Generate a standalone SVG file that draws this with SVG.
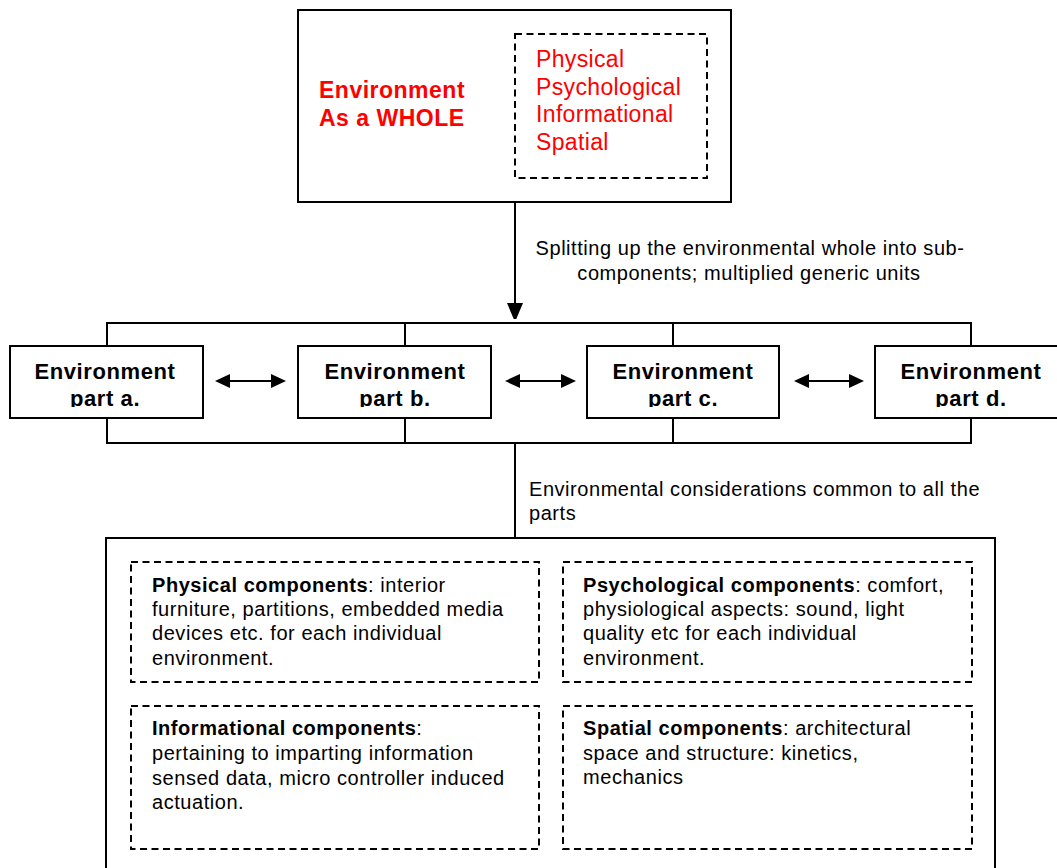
<svg xmlns="http://www.w3.org/2000/svg" width="1057" height="868" viewBox="0 0 1057 868">
  <style>
    .box { fill: #fff; stroke: #000; stroke-width: 2; }
    .dash { fill: none; stroke: #000; stroke-width: 2; stroke-dasharray: 7 4.5; }
    .wire { fill: none; stroke: #000; stroke-width: 2; }
    .txt { font-family: "Liberation Sans", Arial, sans-serif; font-size: 20px; letter-spacing: 0.55px; fill: #000; }
    .b { font-weight: bold; }
    .head { font-family: "Liberation Sans", Arial, sans-serif; font-size: 22px; font-weight: bold; letter-spacing: 0.6px; fill: #000; text-anchor: middle; }
    .redB { font-family: "Liberation Sans", Arial, sans-serif; font-size: 23px; font-weight: bold; letter-spacing: 0.5px; fill: #ff0000; }
    .red { font-family: "Liberation Sans", Arial, sans-serif; font-size: 23px; letter-spacing: 0.35px; fill: #ff0000; }
  </style>
  <defs>
    <marker id="arrowDown" markerUnits="userSpaceOnUse" markerWidth="16" markerHeight="19" refX="6" refY="8" orient="auto">
      <path d="M0,0 L19,8 L0,16 z" fill="#000"/>
    </marker>
    <marker id="arrowH" markerUnits="userSpaceOnUse" markerWidth="15" markerHeight="14" refX="5" refY="7" orient="auto-start-reverse">
      <path d="M0,0 L15,7 L0,14 z" fill="#000"/>
    </marker>
    <clipPath id="clipA"><rect x="10" y="346" width="193" height="61"/></clipPath>
    <clipPath id="clipB"><rect x="298" y="346" width="193" height="61"/></clipPath>
    <clipPath id="clipC"><rect x="587" y="346" width="193" height="61"/></clipPath>
    <clipPath id="clipD"><rect x="875" y="346" width="193" height="61"/></clipPath>
  </defs>

  <rect width="1057" height="868" fill="#fff"/>

  <!-- connectors -->
  <g id="connectors">
    <line class="wire" x1="515" y1="202" x2="515" y2="309" marker-end="url(#arrowDown)"/>
    <!-- upper bus to the four parts -->
    <path class="wire" d="M107,323 H971 M107,322 V346 M405,322 V346 M673,322 V346 M971,322 V346"/>
    <!-- lower bus from the four parts -->
    <path class="wire" d="M107,418 V443 M405,418 V443 M673,418 V443 M971,418 V443 M106,443 H972"/>
    <line class="wire" x1="515" y1="443" x2="515" y2="538"/>
    <!-- two-way links between neighbouring parts -->
    <line class="wire" x1="225" y1="381" x2="276" y2="381" marker-start="url(#arrowH)" marker-end="url(#arrowH)"/>
    <line class="wire" x1="515" y1="381" x2="566" y2="381" marker-start="url(#arrowH)" marker-end="url(#arrowH)"/>
    <line class="wire" x1="804" y1="381" x2="854" y2="381" marker-start="url(#arrowH)" marker-end="url(#arrowH)"/>
    <text class="txt" x="750" y="255" text-anchor="middle">Splitting up the environmental whole into sub-</text>
    <text class="txt" x="749" y="280" text-anchor="middle">components; multiplied generic units</text>
    <text class="txt" x="529" y="496">Environmental considerations common to all the</text>
    <text class="txt" x="529" y="520">parts</text>
  </g>

  <!-- environment as a whole -->
  <g id="whole">
    <rect class="box" x="298" y="10" width="433" height="192"/>
    <text class="redB" x="319" y="98">Environment</text>
    <text class="redB" x="319" y="126">As a WHOLE</text>
    <rect class="dash" x="515" y="34" width="192" height="144"/>
    <text class="red" x="536" y="67">Physical</text>
    <text class="red" x="536" y="95">Psychological</text>
    <text class="red" x="536" y="122">Informational</text>
    <text class="red" x="536" y="150">Spatial</text>
  </g>

  <!-- the four environment parts -->
  <g id="part-a">
    <rect class="box" x="10" y="346" width="193" height="72"/>
    <g clip-path="url(#clipA)">
      <text class="head" x="105" y="379">Environment</text>
      <text class="head" x="105" y="406">part a.</text>
    </g>
  </g>
  <g id="part-b">
    <rect class="box" x="298" y="346" width="193" height="72"/>
    <g clip-path="url(#clipB)">
      <text class="head" x="395" y="379">Environment</text>
      <text class="head" x="395" y="406">part b.</text>
    </g>
  </g>
  <g id="part-c">
    <rect class="box" x="587" y="346" width="192" height="72"/>
    <g clip-path="url(#clipC)">
      <text class="head" x="683" y="379">Environment</text>
      <text class="head" x="683" y="406">part c.</text>
    </g>
  </g>
  <g id="part-d">
    <rect class="box" x="875" y="346" width="193" height="72"/>
    <g clip-path="url(#clipD)">
      <text class="head" x="971" y="379">Environment</text>
      <text class="head" x="971" y="406">part d.</text>
    </g>
  </g>

  <!-- shared considerations -->
  <g id="common">
    <rect class="box" x="106" y="538" width="889" height="345"/>
  </g>
  <g id="physical">
    <rect class="dash" x="131" y="562" width="408" height="120"/>
    <text class="txt" x="152" y="592"><tspan class="b">Physical components</tspan>: interior</text>
    <text class="txt" x="152" y="616">furniture, partitions, embedded media</text>
    <text class="txt" x="152" y="640">devices etc. for each individual</text>
    <text class="txt" x="152" y="665">environment.</text>
  </g>
  <g id="psychological">
    <rect class="dash" x="563" y="562" width="409" height="120"/>
    <text class="txt" x="583" y="592"><tspan class="b">Psychological components</tspan>: comfort,</text>
    <text class="txt" x="583" y="616">physiological aspects: sound, light</text>
    <text class="txt" x="583" y="640">quality etc for each individual</text>
    <text class="txt" x="583" y="665">environment.</text>
  </g>
  <g id="informational">
    <rect class="dash" x="131" y="706" width="408" height="143"/>
    <text class="txt" x="152" y="735"><tspan class="b">Informational components</tspan>:</text>
    <text class="txt" x="152" y="760">pertaining to imparting information</text>
    <text class="txt" x="152" y="785">sensed data, micro controller induced</text>
    <text class="txt" x="152" y="809">actuation.</text>
  </g>
  <g id="spatial">
    <rect class="dash" x="563" y="706" width="409" height="143"/>
    <text class="txt" x="583" y="735"><tspan class="b">Spatial components</tspan>: architectural</text>
    <text class="txt" x="583" y="760">space and structure: kinetics,</text>
    <text class="txt" x="583" y="784">mechanics</text>
  </g>
</svg>
